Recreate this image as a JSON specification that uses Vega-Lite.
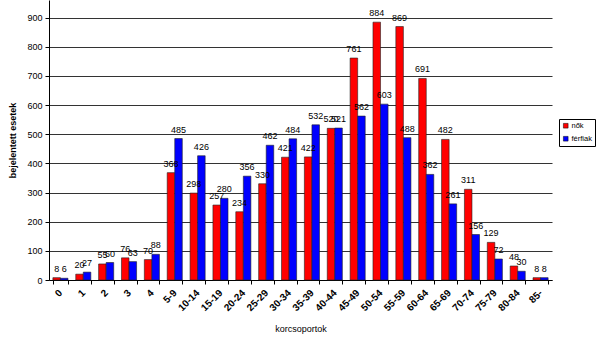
{
  "$schema": "https://vega.github.io/schema/vega-lite/v6.json",
  "width": 503,
  "height": 280,
  "autosize": {"type": "none"},
  "padding": {"left": 49, "top": 0, "right": 48, "bottom": 72},
  "background": "white",
  "config": {
    "view": {"stroke": null},
    "font": "Liberation Sans"
  },
  "data": {
    "values": [
      {"age": "0", "sex": "nők", "v": 8}, {"age": "0", "sex": "férfiak", "v": 6},
      {"age": "1", "sex": "nők", "v": 20}, {"age": "1", "sex": "férfiak", "v": 27},
      {"age": "2", "sex": "nők", "v": 55}, {"age": "2", "sex": "férfiak", "v": 60},
      {"age": "3", "sex": "nők", "v": 76}, {"age": "3", "sex": "férfiak", "v": 63},
      {"age": "4", "sex": "nők", "v": 70}, {"age": "4", "sex": "férfiak", "v": 88},
      {"age": "5-9", "sex": "nők", "v": 368}, {"age": "5-9", "sex": "férfiak", "v": 485},
      {"age": "10-14", "sex": "nők", "v": 298}, {"age": "10-14", "sex": "férfiak", "v": 426},
      {"age": "15-19", "sex": "nők", "v": 257}, {"age": "15-19", "sex": "férfiak", "v": 280},
      {"age": "20-24", "sex": "nők", "v": 234}, {"age": "20-24", "sex": "férfiak", "v": 356},
      {"age": "25-29", "sex": "nők", "v": 330}, {"age": "25-29", "sex": "férfiak", "v": 462},
      {"age": "30-34", "sex": "nők", "v": 421}, {"age": "30-34", "sex": "férfiak", "v": 484},
      {"age": "35-39", "sex": "nők", "v": 422}, {"age": "35-39", "sex": "férfiak", "v": 532},
      {"age": "40-44", "sex": "nők", "v": 520}, {"age": "40-44", "sex": "férfiak", "v": 521},
      {"age": "45-49", "sex": "nők", "v": 761}, {"age": "45-49", "sex": "férfiak", "v": 562},
      {"age": "50-54", "sex": "nők", "v": 884}, {"age": "50-54", "sex": "férfiak", "v": 603},
      {"age": "55-59", "sex": "nők", "v": 869}, {"age": "55-59", "sex": "férfiak", "v": 488},
      {"age": "60-64", "sex": "nők", "v": 691}, {"age": "60-64", "sex": "férfiak", "v": 362},
      {"age": "65-69", "sex": "nők", "v": 482}, {"age": "65-69", "sex": "férfiak", "v": 261},
      {"age": "70-74", "sex": "nők", "v": 311}, {"age": "70-74", "sex": "férfiak", "v": 156},
      {"age": "75-79", "sex": "nők", "v": 129}, {"age": "75-79", "sex": "férfiak", "v": 72},
      {"age": "80-84", "sex": "nők", "v": 48}, {"age": "80-84", "sex": "férfiak", "v": 30},
      {"age": "85-", "sex": "nők", "v": 8}, {"age": "85-", "sex": "férfiak", "v": 8}
    ]
  },
  "encoding": {
    "x": {
      "field": "age", "type": "nominal", "sort": null,
      "scale": {"paddingInner": 0.34, "paddingOuter": 0.17},
      "axis": {
        "title": "korcsoportok", "titleFontSize": 9, "titleFontWeight": "normal", "titleColor": "black",
        "titlePadding": 12,
        "labelAngle": -45, "labelFontSize": 10, "labelFontWeight": "bold", "labelColor": "black",
        "labelAlign": "right", "labelBaseline": "middle", "labelPadding": 7,
        "tickBand": "extent", "tickColor": "black", "tickSize": 4, "domainColor": "black", "grid": false
      }
    },
    "xOffset": {"field": "sex", "type": "nominal", "sort": ["nők", "férfiak"], "scale": {"paddingInner": 0}},
    "y": {
      "field": "v", "type": "quantitative",
      "scale": {"domain": [0, 960], "nice": false},
      "axis": {
        "title": "bejelentett esetek", "titleFontSize": 9, "titleFontWeight": "bold", "titleColor": "black",
        "titlePadding": 9,
        "values": [0, 100, 200, 300, 400, 500, 600, 700, 800, 900],
        "labelFontSize": 9, "labelColor": "black", "labelPadding": 3, "tickColor": "black", "tickSize": 4,
        "domainColor": "black", "gridColor": "#333333", "gridWidth": 1
      }
    }
  },
  "layer": [
    {
      "mark": {"type": "bar", "stroke": "#222222", "strokeWidth": 0.6},
      "encoding": {
        "color": {
          "field": "sex", "type": "nominal", "sort": ["nők", "férfiak"],
          "scale": {"domain": ["nők", "férfiak"], "range": ["#ff0000", "#0000ff"]},
          "legend": {
            "title": null, "orient": "none", "legendX": 510, "legendY": 119,
            "symbolType": "square", "symbolSize": 22, "symbolStrokeColor": "black", "symbolStrokeWidth": 0.5,
            "labelFontSize": 7.5, "labelColor": "black", "labelOffset": 2, "rowPadding": 4,
            "strokeColor": "black", "padding": 3, "fillColor": "white"
          }
        }
      }
    },
    {
      "mark": {"type": "text", "baseline": "bottom", "dy": -4, "fontSize": 9, "color": "black"},
      "encoding": {"text": {"field": "v", "type": "quantitative"}}
    }
  ]
}
